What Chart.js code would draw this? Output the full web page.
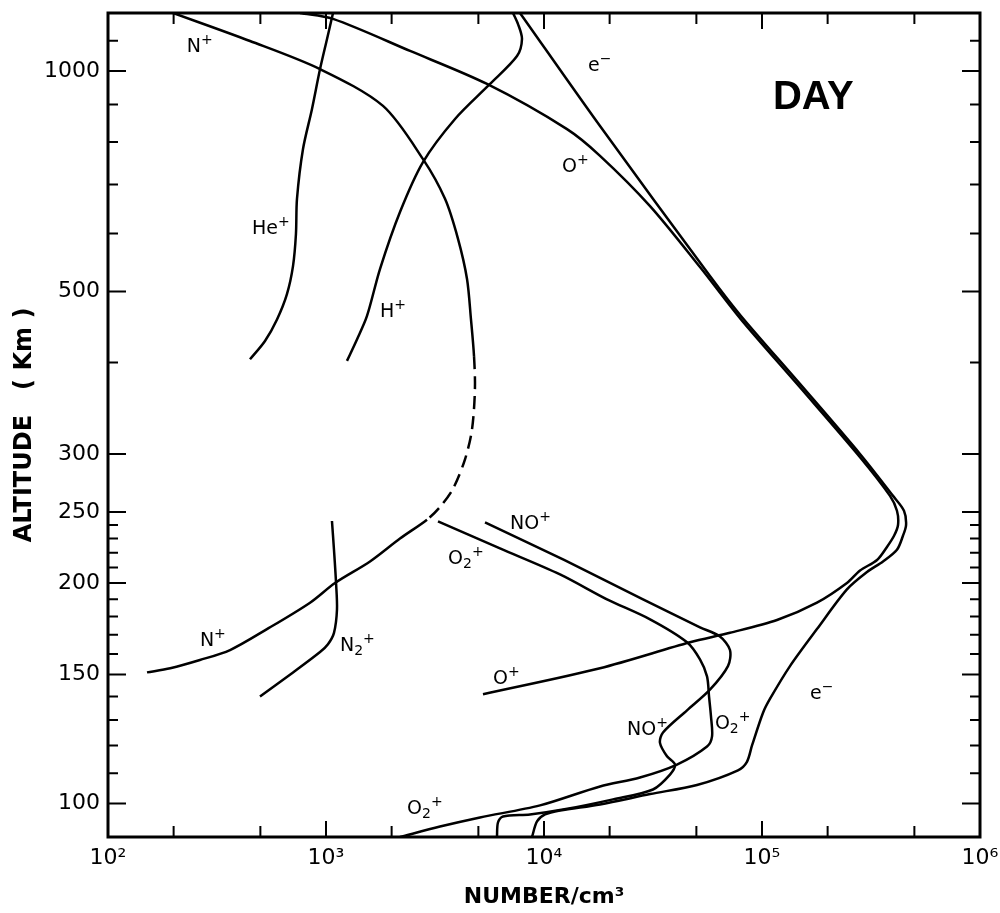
<!DOCTYPE html>
<html lang="en">
<head>
    <meta charset="UTF-8">
    <title>Daytime ion composition</title>
    <style>
        html, body {
            margin: 0;
            padding: 0;
            background: #fff;
        }

        #chartWrap {
            width: 1000px;
            height: 913px;
            position: relative;
        }
    </style>
</head>
<body>
    <div id="chartWrap">
        <canvas id="ionChart"></canvas>
    </div>

    <script src="https://cdn.jsdelivr.net/npm/chart.js"></script>
    <script>
        // axis ticks
        const xLabelTicks = [1e2, 1e3, 1e4, 1e5, 1e6];
        const xLabelText = ['10²', '10³', '10⁴', '10⁵', '10⁶'];
        const xMinorTicks = [200, 500, 2000, 5000, 20000, 50000, 200000, 500000];
        const yLabelTicks = [100, 150, 200, 250, 300, 500, 1000];
        const yMinorTicks = [110, 120, 130, 140, 160, 170, 180, 190, 210, 220, 230, 240, 400, 600, 700, 800, 900, 1100];

        // densities (per cm3) and altitudes (km)
        const eDensity = [7760, 18070, 57700, 80100, 149300, 281600, 399000, 448000, 458000, 443200, 416000, 359000, 303300, 245300, 178700, 134400, 108900, 101100, 90000, 85300, 77600, 50300, 30650, 18070, 11840, 10110, 9290, 8810];
        const eAltitude = [1200, 841, 525, 463, 374, 300, 263, 251, 240, 232, 222, 214, 207, 196, 173, 154, 139, 133, 120, 114, 111, 106, 103, 99.7, 97.8, 96.6, 94.5, 90];

        const oPlusDensity = [760, 1077, 2430, 5477, 12750, 18070, 30650, 51940, 80100, 149300, 281600, 386500, 416000, 420700, 403400, 374300, 337100, 281600, 245300, 178700, 117200, 71300, 46750, 18070, 5250];
        const oPlusAltitude = [1200, 1178, 1065, 960, 833, 766, 654, 540, 458, 370, 297, 263, 251, 240, 232, 224, 215, 208, 200, 188, 178, 171, 166, 153, 141];

        const hPlusDensity = [1248, 1387, 1542, 1770, 2185, 2786, 3908, 5653, 7520, 7925, 7600, 7210];
        const hPlusAltitude = [402, 430, 463, 537, 642, 751, 860, 960, 1048, 1106, 1159, 1200];

        const hePlusDensity = [448, 525, 596, 662, 706, 728, 736, 784, 862, 939, 1011, 1077];
        const hePlusAltitude = [404, 428, 458, 496, 542, 599, 669, 782, 887, 1006, 1106, 1200];

        const nPlusDensity = [199, 448, 939, 1826, 2786, 3515, 4032, 4435, 4624, 4775, 4822, 4674, 4341, 3826, 3334, 2906, 2185, 1592, 1100, 845, 536, 363, 264, 193, 151];
        const nPlusAltitude = [1200, 1099, 1006, 896, 758, 669, 590, 520, 458, 408, 368, 324, 295, 269, 254, 244, 230, 214, 200, 188, 173, 162, 157, 153, 151];
        const nPlusDashed = [243, 409]; // altitude band drawn dashed

        const n2PlusDensity = [1065, 1088, 1112, 1123, 1088, 1021, 939, 706, 498];
        const n2PlusAltitude = [243, 222, 200, 184, 171, 165, 161, 151, 140];

        const noPlusDensity = [5362, 12360, 28450, 51940, 64150, 71300, 69800, 57700, 45290, 35150, 34040, 36660, 39900, 37840, 31620, 20730, 12220, 8625, 6486, 6150, 6085];
        const noPlusAltitude = [242, 215, 190, 174, 169, 162, 154, 143, 134, 125, 121, 116, 113, 109.5, 104.5, 101.3, 98.1, 96.6, 96, 94.2, 90];

        const o2PlusDensity = [3264, 6281, 11840, 19450, 30650, 45290, 51940, 55950, 57150, 58340, 59000, 55950, 40740, 27560, 18070, 9590, 5085, 3334, 2185];
        const o2PlusAltitude = [242.8, 223, 205.5, 190, 178.4, 166, 157.3, 149.1, 140, 131.5, 123.5, 119.6, 113, 108.5, 105.5, 99.4, 95.7, 93, 90];

        // curve labels: ^ = superscript next char, _ = subscript next char
        const labelText = ['N^+', 'He^+', 'H^+', 'O^+', 'e^−', 'NO^+', 'O_2^+', 'N^+', 'N_2^+', 'O^+', 'NO^+', 'O_2^+', 'e^−', 'O_2^+'];
        const labelDensity = [230, 458, 1770, 12090, 15920, 6980, 3631, 264, 1159, 5834, 24030, 60800, 166000, 2353];
        const labelAltitude = [1061, 599, 461, 728, 1000, 236.8, 212, 163.9, 161.3, 145.4, 124.2, 126.2, 138.7, 96.6];

        function toPoints(density, altitude) {
            return density.map((d, i) => ({ x: d, y: altitude[i] }));
        }

        function curve(density, altitude, extra) {
            return Object.assign({
                data: toPoints(density, altitude),
                showLine: true,
                borderColor: '#000',
                borderWidth: 2.5,
                pointRadius: 0,
                tension: 0.3,
                fill: false
            }, extra || {});
        }

        function drawLabel(ctx, x, y, text) {
            let mode = '';
            for (const ch of text) {
                if (ch === '^' || ch === '_') { mode = ch; continue; }
                let dy = 0;
                if (mode === '^') {
                    ctx.font = '14px "DejaVu Sans"';
                    dy = -8;
                } else if (mode === '_') {
                    ctx.font = '14px "DejaVu Sans"';
                    dy = 4;
                } else {
                    ctx.font = '19px "DejaVu Sans"';
                }
                ctx.fillText(ch, x, y + dy);
                x += ctx.measureText(ch).width;
                mode = '';
            }
        }

        const framePlugin = {
            id: 'frame',
            afterDraw(chart) {
                const { ctx, chartArea: a, scales: { x, y } } = chart;
                ctx.save();
                ctx.strokeStyle = '#000';
                ctx.lineWidth = 3;
                ctx.strokeRect(a.left, a.top, a.right - a.left, a.bottom - a.top);

                ctx.lineWidth = 2;
                ctx.beginPath();
                const xTick = (v, len) => {
                    const px = x.getPixelForValue(v);
                    ctx.moveTo(px, a.bottom); ctx.lineTo(px, a.bottom - len);
                    ctx.moveTo(px, a.top); ctx.lineTo(px, a.top + len);
                };
                const yTick = (v, len) => {
                    const py = y.getPixelForValue(v);
                    ctx.moveTo(a.left, py); ctx.lineTo(a.left + len, py);
                    ctx.moveTo(a.right, py); ctx.lineTo(a.right - len, py);
                };
                xLabelTicks.forEach(v => xTick(v, 16));
                xMinorTicks.forEach(v => xTick(v, 11));
                yLabelTicks.forEach(v => yTick(v, 18));
                yMinorTicks.forEach(v => yTick(v, 10));
                ctx.stroke();

                ctx.fillStyle = '#000';
                ctx.textBaseline = 'alphabetic';
                ctx.textAlign = 'left';
                labelText.forEach((t, i) => {
                    drawLabel(ctx, x.getPixelForValue(labelDensity[i]), y.getPixelForValue(labelAltitude[i]), t);
                });

                ctx.font = 'bold 40px "Liberation Sans"';
                ctx.fillText('DAY', x.getPixelForValue(112200), y.getPixelForValue(887));
                ctx.restore();
            }
        };

        const ctx = document.getElementById('ionChart').getContext('2d');
        new Chart(ctx, {
            type: 'scatter',
            data: {
                datasets: [
                    curve(eDensity, eAltitude),
                    curve(oPlusDensity, oPlusAltitude),
                    curve(hPlusDensity, hPlusAltitude),
                    curve(hePlusDensity, hePlusAltitude),
                    curve(nPlusDensity, nPlusAltitude, {
                        segment: {
                            borderDash: c => {
                                const a0 = c.p0.parsed.y, a1 = c.p1.parsed.y;
                                const inBand = v => v >= nPlusDashed[0] && v <= nPlusDashed[1];
                                return inBand(a0) && inBand(a1) ? [13, 7] : undefined;
                            }
                        }
                    }),
                    curve(n2PlusDensity, n2PlusAltitude),
                    curve(noPlusDensity, noPlusAltitude),
                    curve(o2PlusDensity, o2PlusAltitude)
                ]
            },
            options: {
                responsive: true,
                maintainAspectRatio: false,
                animation: false,
                layout: {
                    padding: { top: 13, right: 20, left: 0, bottom: 0 }
                },
                plugins: {
                    legend: { display: false },
                    tooltip: { enabled: false }
                },
                scales: {
                    x: {
                        type: 'logarithmic',
                        min: 100,
                        max: 1e6,
                        afterBuildTicks: s => { s.ticks = xLabelTicks.map(v => ({ value: v })); },
                        afterFit: s => {
                            s.height = 76;
                            s.paddingLeft = 0;
                            s.paddingRight = 0;
                        },
                        grid: { display: false, drawTicks: false },
                        border: { display: false },
                        ticks: {
                            autoSkip: false,
                            maxRotation: 0,
                            padding: 8,
                            color: '#000',
                            font: { family: 'DejaVu Sans', size: 22 },
                            callback: v => xLabelText[xLabelTicks.indexOf(v)]
                        },
                        title: {
                            display: true,
                            text: 'NUMBER/cm³',
                            color: '#000',
                            font: { family: 'DejaVu Sans', size: 22, weight: 'bold' },
                            padding: { top: 0, bottom: 3 }
                        }
                    },
                    y: {
                        type: 'logarithmic',
                        min: 90,
                        max: 1200,
                        afterBuildTicks: s => { s.ticks = yLabelTicks.map(v => ({ value: v })); },
                        afterFit: s => {
                            s.width = 108;
                            s.paddingTop = 0;
                            s.paddingBottom = 0;
                        },
                        grid: { display: false, drawTicks: false },
                        border: { display: false },
                        ticks: {
                            autoSkip: false,
                            padding: 8,
                            color: '#000',
                            font: { family: 'DejaVu Sans', size: 22 },
                            callback: v => String(v)
                        },
                        title: {
                            display: true,
                            text: 'ALTITUDE   ( Km )',
                            color: '#000',
                            font: { family: 'DejaVu Sans', size: 24, weight: 'bold' },
                            padding: { top: 10, bottom: 0 }
                        }
                    }
                }
            },
            plugins: [framePlugin]
        });
    </script>
</body>
</html>
